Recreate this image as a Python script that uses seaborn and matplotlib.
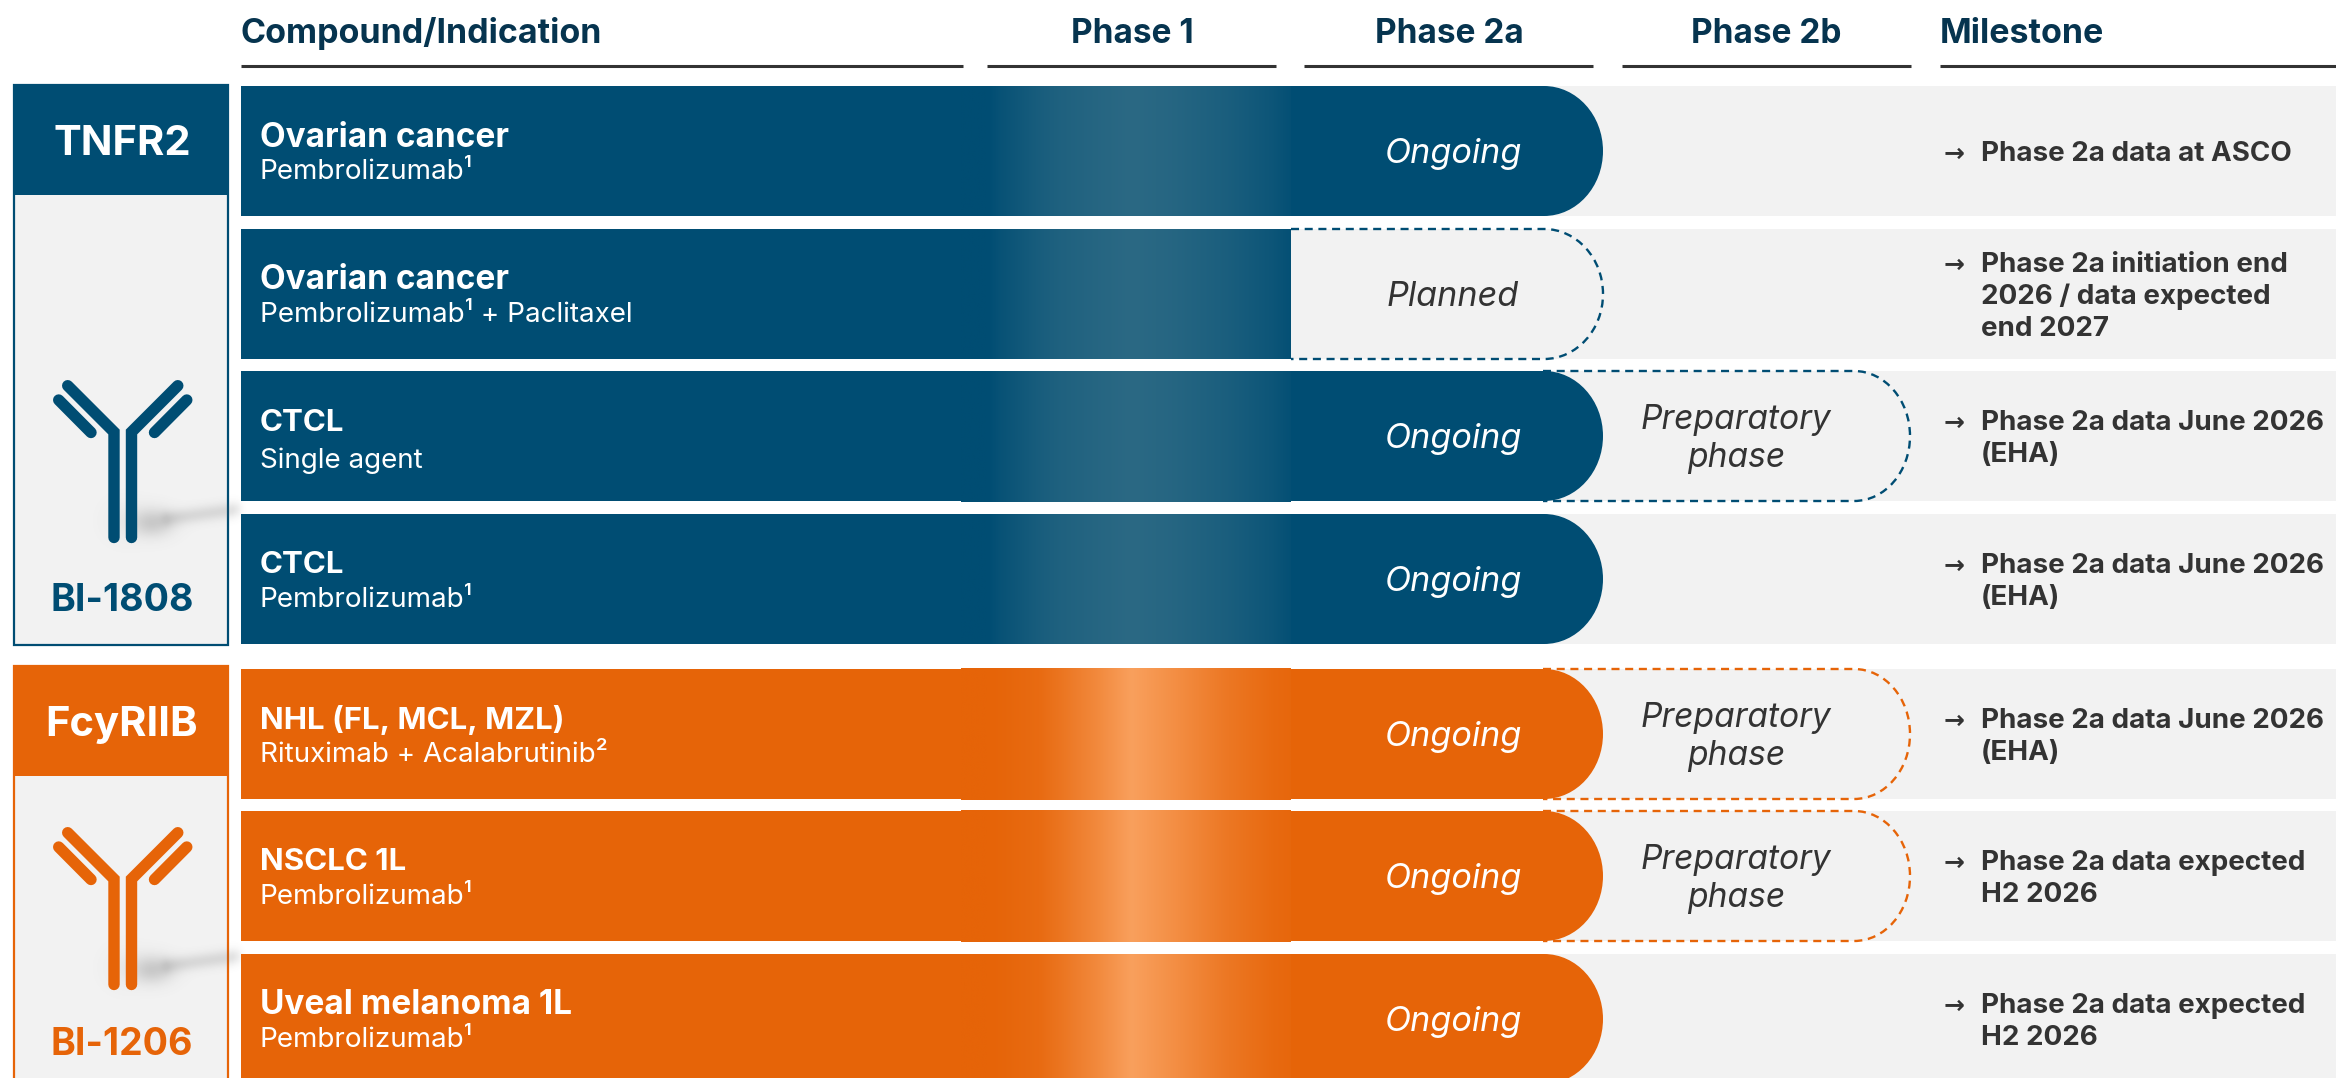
import numpy as np
import pandas as pd
import seaborn as sns
import matplotlib
matplotlib.use("Agg")
import matplotlib.pyplot as plt
from matplotlib.colors import LinearSegmentedColormap, to_rgb
from matplotlib.patches import PathPatch, Rectangle
from matplotlib.path import Path

# ---------- pipeline content ----------
targets = ["TNFR2", "FcyRIIB"]
compounds = ["BI-1808", "BI-1206"]
row_program = [0, 0, 0, 0, 1, 1, 1]
indications = ["Ovarian cancer", "Ovarian cancer", "CTCL", "CTCL",
               "NHL (FL, MCL, MZL)", "NSCLC 1L", "Uveal melanoma 1L"]
combinations = ["Pembrolizumab¹", "Pembrolizumab¹ + Paclitaxel", "Single agent", "Pembrolizumab¹",
                "Rituximab + Acalabrutinib²", "Pembrolizumab¹", "Pembrolizumab¹"]
phase2a_status = ["Ongoing", "Planned", "Ongoing", "Ongoing", "Ongoing", "Ongoing", "Ongoing"]
phase2b_status = [None, None, "Preparatory\nphase", None, "Preparatory\nphase", "Preparatory\nphase", None]
milestones = [["Phase 2a data at ASCO"],
              ["Phase 2a initiation end", "2026 / data expected", "end 2027"],
              ["Phase 2a data June 2026", "(EHA)"],
              ["Phase 2a data June 2026", "(EHA)"],
              ["Phase 2a data June 2026", "(EHA)"],
              ["Phase 2a data expected", "H2 2026"],
              ["Phase 2a data expected", "H2 2026"]]
column_titles = ["Compound/Indication", "Phase 1", "Phase 2a", "Phase 2b", "Milestone"]

# ---------- layout, in output pixels ----------
W, H = 2336, 1078
ROW_TOP = np.array([86, 229, 371, 514, 669, 811, 954])
ROW_H = 130
TRACK_LEFT = 241
GRAD_L, GRAD_R = 961, 1291
# Phase 1 sheen: position along the bar and share of the highlight colour per program
SHEEN_X = [961, 988, 1000, 1040, 1060, 1097, 1132, 1173, 1227, 1273, 1291]
SHEEN_MIX = [[0.0, 0.0, 0.18, 0.58, 0.72, 0.88, 1.0, 0.88, 0.62, 0.30, 0.10],
             [0.0, 0.0, 0.02, 0.12, 0.28, 0.62, 1.0, 0.72, 0.33, 0.10, 0.05]]
SHEEN_PAD_TOP = [0, 0, 0, 0, 1, 1, 0]
SHEEN_PAD_BOTTOM = [0, 0, 1, 0, 1, 1, 0]
PILL_STRAIGHT, PILL_END = 1544, 1603
PREP_STRAIGHT, PREP_END = 1854, 1910
GREY = "#F2F2F2"
INK = "#333333"
HEAD = "#06344F"
BASE = ["#004D73", "#E66408"]
PEAK = ["#2B6984", "#F9A05D"]
HEAD_SPANS = [(241, 963), (987, 1276), (1304, 1593), (1622, 1911), (1940, 2336)]
HEAD_X = [241, 1132, 1449, 1766, 1940]
TITLE_SIZE = [24, 24, 22.5, 22.5, 22.5, 22.5, 24]
FONT = "Inter"

sns.set_theme(style="white", rc={"axes.facecolor": "white", "figure.facecolor": "white"})
plt.rcParams["font.family"] = [FONT, "DejaVu Sans"]

fig = plt.figure(figsize=(W / 100, H / 100), dpi=100)
ax = fig.add_axes([0, 0, 1, 1])

# Grey tracks behind each row
tracks = pd.DataFrame({"centre": ROW_TOP + ROW_H / 2, "length": W - TRACK_LEFT})
sns.barplot(data=tracks, x="length", y="centre", orient="y", native_scale=True,
            color=GREY, saturation=1, errorbar=None, width=ROW_H / np.diff(ROW_TOP).min(),
            left=TRACK_LEFT, linewidth=0, ax=ax, zorder=1)
ax.set_xlim(0, W)
ax.set_ylim(H, 0)
ax.set_axis_off()

K = 0.5523


def pill_path(x0, x_straight, x_end, top, bottom, closed=True):
    """Bar with a flat left side and a right end made of two quarter ellipses."""
    mid = (top + bottom) / 2
    rx, ry = x_end - x_straight, (bottom - top) / 2
    verts = [(x0, top), (x_straight, top),
             (x_straight + K * rx, top), (x_end, mid - K * ry), (x_end, mid),
             (x_end, mid + K * ry), (x_straight + K * rx, bottom), (x_straight, bottom),
             (x0, bottom)]
    codes = [Path.MOVETO, Path.LINETO, Path.CURVE4, Path.CURVE4, Path.CURVE4,
             Path.CURVE4, Path.CURVE4, Path.CURVE4, Path.LINETO]
    if closed:
        verts.append((x0, top))
        codes.append(Path.CLOSEPOLY)
    return Path(verts, codes)


def dashed_pill(x0, x_straight, x_end, top, color):
    path = pill_path(x0, x_straight, x_end, top, top + ROW_H, closed=False)
    ax.add_patch(PathPatch(path, fill=False, edgecolor=color, lw=1.7, zorder=2,
                           linestyle=(0, (3.4, 2.4)), capstyle="butt"))


for i, top in enumerate(ROW_TOP):
    p = row_program[i]
    bottom = top + ROW_H
    if phase2b_status[i]:
        dashed_pill(1543, PREP_STRAIGHT, PREP_END, top, BASE[p])
    if phase2a_status[i] == "Ongoing":
        ax.add_patch(PathPatch(pill_path(TRACK_LEFT, PILL_STRAIGHT, PILL_END, top, bottom),
                               facecolor=BASE[p], edgecolor="none", zorder=3))
    else:
        dashed_pill(GRAD_R, PILL_STRAIGHT, PILL_END, top, BASE[p])
        ax.add_patch(Rectangle((TRACK_LEFT, top), GRAD_R - TRACK_LEFT, ROW_H,
                               facecolor=BASE[p], edgecolor="none", zorder=3))
    # Phase 1 sheen
    base, peak = np.array(to_rgb(BASE[p])), np.array(to_rgb(PEAK[p]))
    stops = [((x - GRAD_L) / (GRAD_R - GRAD_L), tuple(base + m * (peak - base)))
             for x, m in zip(SHEEN_X, SHEEN_MIX[p])]
    cmap = LinearSegmentedColormap.from_list(f"phase1_{i}", stops)
    ax.imshow(np.linspace(0, 1, 512)[None, :], cmap=cmap, aspect="auto", zorder=4,
              extent=(GRAD_L, GRAD_R, bottom + SHEEN_PAD_BOTTOM[i], top - SHEEN_PAD_TOP[i]),
              interpolation="bilinear")

ax.set_xlim(0, W)
ax.set_ylim(H, 0)

# Column headers with rules below
for title, (x0, x1), xt, j in zip(column_titles, HEAD_SPANS, HEAD_X, range(5)):
    ax.text(xt, 34, title, color=HEAD, fontsize=24.5 if j in (0, 4) else 24, fontweight="bold",
            va="center", ha="left" if j in (0, 4) else "center", zorder=6)
    ax.plot([x0, x1], [66, 66], color=INK, lw=2.2, solid_capstyle="butt", zorder=6)

# Row text
title_shift = [1, 0, 1, 0, 0, 0, 0]
sub_shift = [0, 0, 4, 0, 0, 0, 0]
for i, top in enumerate(ROW_TOP):
    centre = top + ROW_H / 2
    ax.text(260, top + 51 + title_shift[i], indications[i], color="white", fontsize=TITLE_SIZE[i],
            fontweight="bold", va="center", zorder=6)
    ax.text(260, top + 86 + sub_shift[i], combinations[i], color="white", fontsize=20,
            va="center", zorder=6)
    planned = phase2a_status[i] == "Planned"
    ax.text(1453, centre + 3, phase2a_status[i], color=INK if planned else "white", fontsize=24.6,
            style="italic", ha="center", va="center", zorder=6)
    if phase2b_status[i]:
        for dy, line in zip((-19, 19), phase2b_status[i].split("\n")):
            ax.text(1736, centre + dy + 3, line, color=INK, fontsize=24.2, style="italic",
                    ha="center", va="center", zorder=6)
    lines = milestones[i]
    first = centre if len(lines) == 1 else centre - 16 * (len(lines) - 1)
    ax.text(1944, first + 3, "→", color=INK, fontsize=18, fontweight="bold",
            family="DejaVu Sans", va="center", zorder=6)
    for k, line in enumerate(lines):
        ax.text(1981, first + 3 + k * 32, line, color=INK, fontsize=20, fontweight="bold",
                va="center", zorder=6)

# Program panels on the left
panel_top = [85, 666]
panel_head = [110, 110]
panel_bottom = [645, H + 20]
antibody_offset = [0, 447]
label_y = [144, 725]
code_y = [601, 1045]
AXIS_X = 122.75


def antibody(dy, color):
    for side in (-1, 1):
        sx = lambda x: AXIS_X + side * (AXIS_X - x)
        ax.plot([sx(114), sx(114), sx(67.7)], [dy + 537.5, dy + 432, dy + 385.7], color=color, lw=8.2,
                solid_capstyle="round", solid_joinstyle="miter", zorder=5)
        ax.plot([sx(58.7), sx(91)], [dy + 400, dy + 432.5], color=color, lw=8.2,
                solid_capstyle="round", zorder=5)


def soft_shadow(dy):
    xs = np.arange(90, 250)
    ys = np.arange(dy + 480, dy + 570)
    gx, gy = np.meshgrid(xs, ys)
    a = np.array([168.0, dy + 518.0])
    b = np.array([236.0, dy + 509.0])
    t = np.clip(((gx - a[0]) * (b[0] - a[0]) + (gy - a[1]) * (b[1] - a[1])) / ((b - a) ** 2).sum(), 0, 1)
    band = np.exp(-(np.hypot(gx - a[0] - t * (b[0] - a[0]), gy - a[1] - t * (b[1] - a[1])) / 8.0) ** 2)
    band *= 0.17 * np.clip((248 - gx) / 16, 0, 1)
    blob = 0.26 * np.exp(-((gx - 152) / 20.0) ** 2 - ((gy - dy - 522) / 14.0) ** 2)
    halo = 0.05 * np.exp(-((gx - 124) / 20.0) ** 2 - ((gy - dy - 520) / 20.0) ** 2)
    rgba = np.zeros(gx.shape + (4,))
    rgba[..., :3] = 0.35
    rgba[..., 3] = np.clip(band + blob + halo, 0, 0.3)
    ax.imshow(rgba, extent=(90, 250, dy + 570, dy + 480), aspect="auto", zorder=2.5,
              interpolation="bilinear")


for p in range(2):
    c = BASE[p]
    t, b = panel_top[p], panel_bottom[p]
    ax.add_patch(Rectangle((14, t), 214, b - t, facecolor=GREY, edgecolor=c, lw=1.6, zorder=2))
    ax.add_patch(Rectangle((13, t), 216, panel_head[p], facecolor=c, edgecolor="none", zorder=3))
    ax.text(122, label_y[p], targets[p], color="white", fontsize=30, fontweight="bold",
            ha="center", va="center", zorder=6)
    ax.text(122, code_y[p], compounds[p], color=c, fontsize=27, fontweight="bold",
            ha="center", va="center", zorder=6)
    soft_shadow(antibody_offset[p])
    antibody(antibody_offset[p], c)

ax.set_xlim(0, W)
ax.set_ylim(H, 0)
fig.savefig("out.png", dpi=100)
